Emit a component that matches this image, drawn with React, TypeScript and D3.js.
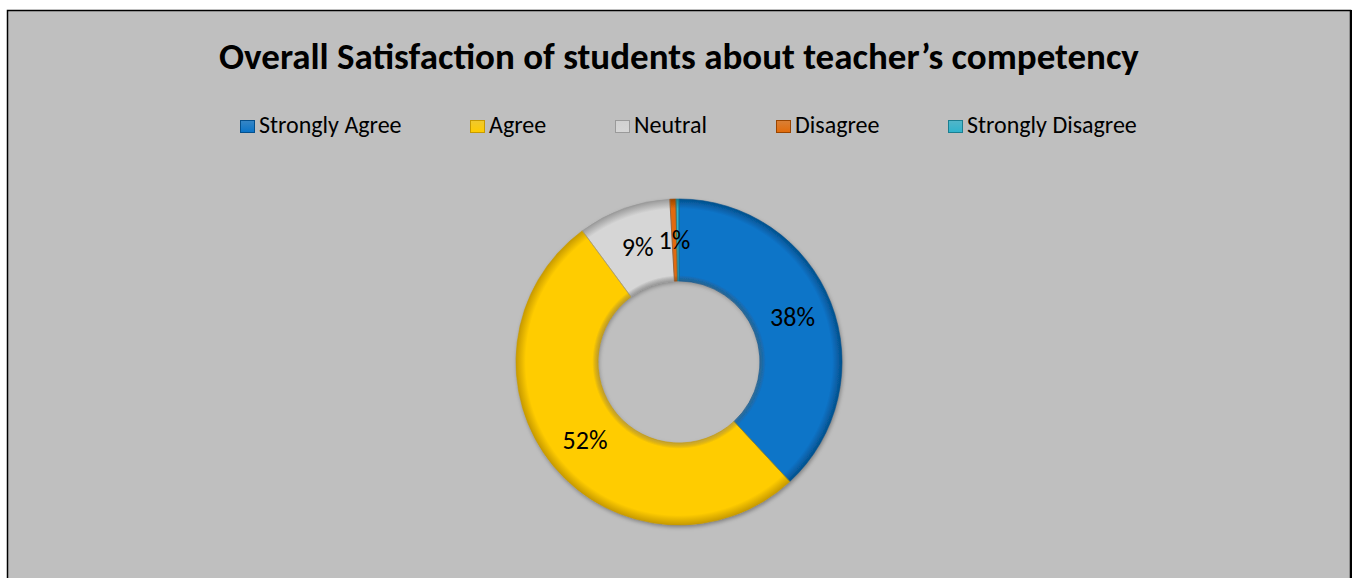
import React from "react";
import * as d3 from "d3";

const categories = ["Strongly Agree", "Agree", "Neutral", "Disagree", "Strongly Disagree"];
const values = [38.1, 51.8, 9.2, 0.6, 0.3];
const labels = ["38%", "52%", "9%", "1%", ""];
const colors = ["#0A74C8", "#FFCC00", "#D6D6D6", "#E26B0A", "#2FB3CC"];
const edgeColors = ["#05508C", "#C79A00", "#9A9A9A", "#9A4500", "#1B7E90"];
const title = "Overall Satisfaction of students about teacher\u2019s competency";
const legendX = [240, 470, 615, 776, 948];

const W = 1356;
const H = 578;
const FONT = "Carlito, Calibri, Lato, 'Open Sans', sans-serif";

export default function App() {
  const cx = 679;
  const cy = 362;
  const outerR = 163;
  const innerR = 81;
  const pie = d3.pie<number>().sort(null).value((d) => d);
  const arcs = pie(values);
  const arc = d3.arc<d3.PieArcDatum<number>>().innerRadius(innerR).outerRadius(outerR);

  return (
    <svg
      width={W}
      height={H}
      style={{ position: "absolute", left: 0, top: 0, background: "#ffffff" }}
    >
      <defs>
        {colors.map((c, i) => (
          <radialGradient key={i} id={`g${i}`} cx={0} cy={0} r={outerR} gradientUnits="userSpaceOnUse">
            <stop offset={innerR / outerR} stopColor={edgeColors[i]} stopOpacity={0.7} />
            <stop offset={innerR / outerR + 0.035} stopColor={c} />
            <stop offset={0.94} stopColor={c} />
            <stop offset={1} stopColor={edgeColors[i]} />
          </radialGradient>
        ))}
        <filter id="shadow" x="-20%" y="-20%" width="140%" height="140%">
          <feDropShadow dx="1" dy="2" stdDeviation="2" floodColor="#000" floodOpacity="0.35" />
        </filter>
        {colors.map((c, i) => (
          <linearGradient key={`l${i}`} id={`lg${i}`} x1="0" y1="0" x2="0" y2="1">
            <stop offset="0" stopColor={c} stopOpacity={0.75} />
            <stop offset="1" stopColor={c} stopOpacity={1} />
          </linearGradient>
        ))}
      </defs>
      <rect x={7.5} y={10.5} width={1343} height={600} fill="#BFBFBF" stroke="#000" strokeWidth={1.5} />
      <line x1={1351} y1={10} x2={1351} y2={H} stroke="#000" strokeWidth={2} />
      <text
        x={679}
        y={69}
        textAnchor="middle"
        fontFamily={FONT}
        fontWeight="bold"
        fontSize={37}
        fill="#000"
      >
        {title}
      </text>
      {categories.map((c, i) => (
        <g key={c}>
          <rect
            x={legendX[i] + 0.5}
            y={120.5}
            width={14}
            height={12}
            fill={`url(#lg${i})`}
            stroke={edgeColors[i]}
            strokeWidth={1}
          />
          <text x={legendX[i] + 19} y={133} fontFamily={FONT} fontSize={24} fill="#000">
            {c}
          </text>
        </g>
      ))}
      <g transform={`translate(${cx},${cy})`}>
        <g filter="url(#shadow)">
          {arcs.map((a, i) => (
            <path key={i} d={arc(a) || ""} fill={`url(#g${i})`} />
          ))}
        </g>
        {arcs.map((a, i) => (
          <path
            key={`s${i}`}
            d={arc(a) || ""}
            fill="none"
            stroke={edgeColors[i]}
            strokeOpacity={0.6}
            strokeWidth={1}
          />
        ))}
        {arcs.map((a, i) => {
          const [x, y] = arc.centroid(a);
          return labels[i] ? (
            <text
              key={`t${i}`}
              x={x}
              y={y}
              textAnchor="middle"
              dominantBaseline="central"
              fontFamily={FONT}
              fontSize={26}
              fill="#000"
            >
              {labels[i]}
            </text>
          ) : null;
        })}
      </g>
    </svg>
  );
}
